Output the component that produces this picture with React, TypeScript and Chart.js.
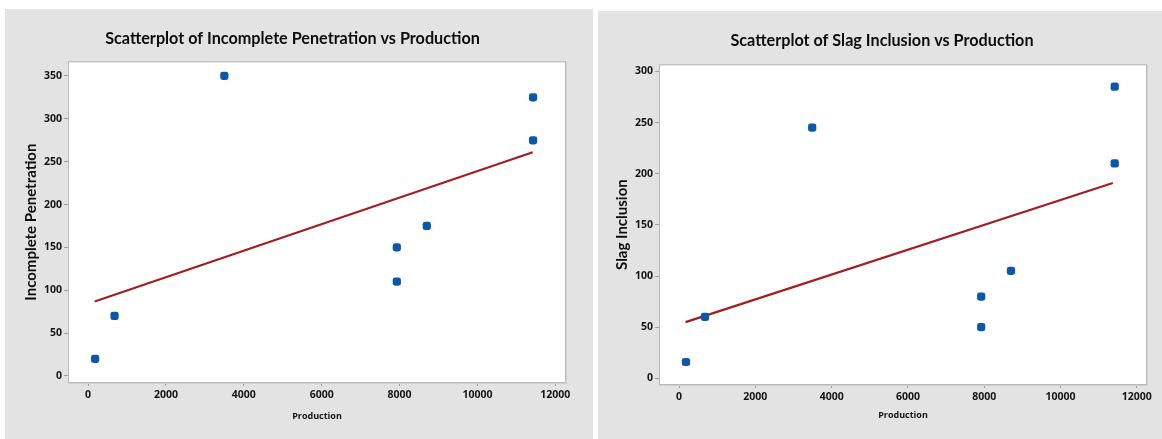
import React, { useEffect, useRef } from "react";
import { Chart, registerables } from "chart.js";

Chart.register(...registerables);

// ---- data ----
const xTicks = [0, 2000, 4000, 6000, 8000, 10000, 12000];
const penYTicks = [0, 50, 100, 150, 200, 250, 300, 350];
const slagYTicks = [0, 50, 100, 150, 200, 250, 300];

const penProduction = [180, 680, 3500, 7930, 7930, 8700, 11430, 11430];
const penetration = [20, 70, 350, 150, 110, 175, 325, 275];
const penFitX = [170, 11420];
const penFitY = [87, 261];

const slagProduction = [180, 680, 3490, 7920, 7920, 8700, 11420, 11420];
const slagInclusion = [16, 60, 245, 80, 50, 105, 285, 210];
const slagFitX = [170, 11370];
const slagFitY = [55, 191];

const TEXT = "#151515";
const TICK_FONT = "'Open Sans', Roboto, sans-serif";

const framePlugin = {
  id: "frame",
  beforeDraw(chart: any) {
    const { ctx, chartArea: a } = chart;
    ctx.save();
    ctx.fillStyle = "#ffffff";
    ctx.fillRect(a.left, a.top, a.right - a.left, a.bottom - a.top);
    ctx.restore();
  },
  beforeDatasetsDraw(chart: any) {
    const { ctx, chartArea: a } = chart;
    ctx.save();
    ctx.strokeStyle = "#b9b9b9";
    ctx.lineWidth = 1;
    ctx.strokeRect(a.left - 0.5, a.top - 0.5, a.right - a.left + 1, a.bottom - a.top + 1);
    ctx.strokeStyle = "#d2d2d2";
    ctx.beginPath();
    ctx.moveTo(a.right + 1.5, a.top);
    ctx.lineTo(a.right + 1.5, a.bottom + 2);
    ctx.moveTo(a.left, a.bottom + 1.5);
    ctx.lineTo(a.right + 2, a.bottom + 1.5);
    ctx.stroke();
    ctx.restore();
  },
};

type PanelProps = {
  title: string;
  yTitle: string;
  xs: number[];
  ys: number[];
  fitX: number[];
  fitY: number[];
  yTicks: number[];
  xMin: number;
  xMax: number;
  yMin: number;
  yMax: number;
  left: number;
  top: number;
  width: number;
  height: number;
  padLeft: number;
  yAxisWidth: number;
  areaBottom: number;
  padRight: number;
  yTitlePad: number;
  titlePadTop: number;
  titlePadBottom: number;
  xTitlePadBottom: number;
};

function ScatterPanel(p: PanelProps) {
  const ref = useRef<HTMLCanvasElement | null>(null);
  useEffect(() => {
    if (!ref.current) return;
    const chart = new Chart(ref.current, {
      type: "scatter",
      data: {
        datasets: [
          {
            data: p.xs.map((x, i) => ({ x, y: p.ys[i] })),
            pointStyle: "rectRounded",
            pointRadius: 4.8,
            backgroundColor: "#0b57aa",
            borderColor: "#0b57aa",
            borderWidth: 0,
            order: 1,
          },
          {
            type: "line",
            data: p.fitX.map((x, i) => ({ x, y: p.fitY[i] })),
            showLine: true,
            pointRadius: 0,
            borderColor: "#a21f1f",
            borderWidth: 2.2,
            fill: false,
            order: 2,
          } as any,
        ],
      },
      options: {
        animation: false,
        responsive: false,
        maintainAspectRatio: false,
        events: [],
        layout: { padding: { left: p.padLeft, right: p.padRight, top: 0, bottom: 0 } },
        plugins: {
          legend: { display: false },
          tooltip: { enabled: false },
          title: {
            display: true,
            text: p.title,
            color: "#0d0d0d",
            font: { family: "Lato", weight: "bold", size: 16.2, lineHeight: 1.25 },
            padding: { top: p.titlePadTop, bottom: p.titlePadBottom },
          },
        },
        scales: {
          x: {
            type: "linear",
            min: p.xMin,
            max: p.xMax,
            afterFit: (s: any) => {
              s.height = p.height - p.areaBottom;
            },
            afterBuildTicks: (s: any) => {
              s.ticks = xTicks.map((v) => ({ value: v }));
            },
            grid: {
              display: true,
              drawOnChartArea: false,
              drawTicks: true,
              tickLength: 4,
              color: "#9d9d9d",
              lineWidth: 1,
            },
            border: { display: false },
            ticks: {
              padding: 3,
              color: TEXT,
              autoSkip: false,
              maxRotation: 0,
              font: { family: TICK_FONT, weight: "bold", size: 10.5 },
              callback: (v: any) => String(v),
            },
            title: {
              display: true,
              text: "Production",
              color: TEXT,
              font: { family: TICK_FONT, weight: "bold", size: 9 },
              padding: { top: 0, bottom: p.xTitlePadBottom },
            },
          },
          y: {
            type: "linear",
            min: p.yMin,
            max: p.yMax,
            afterFit: (s: any) => {
              s.width = p.yAxisWidth;
            },
            afterBuildTicks: (s: any) => {
              s.ticks = p.yTicks.map((v) => ({ value: v }));
            },
            grid: {
              display: true,
              drawOnChartArea: false,
              drawTicks: true,
              tickLength: 5,
              color: "#9d9d9d",
              lineWidth: 1,
            },
            border: { display: false },
            ticks: {
              padding: 2,
              color: TEXT,
              autoSkip: false,
              font: { family: TICK_FONT, weight: "bold", size: 10.5 },
              callback: (v: any) => String(v),
            },
            title: {
              display: true,
              text: p.yTitle,
              color: "#0d0d0d",
              font: { family: "Lato", weight: "bold", size: 15, lineHeight: 1.2 },
              padding: { top: p.yTitlePad, bottom: 0 },
            },
          },
        },
      } as any,
      plugins: [framePlugin],
    });
    return () => chart.destroy();
  }, []);
  return (
    <canvas
      ref={ref}
      width={p.width}
      height={p.height}
      style={{
        position: "absolute",
        left: p.left,
        top: p.top,
        width: p.width,
        height: p.height,
      }}
    />
  );
}

export default function App() {
  return (
    <div style={{ position: "absolute", left: 0, top: 0, width: 1162, height: 439, background: "#ffffff", overflow: "hidden" }}>
      <div style={{ position: "absolute", left: 5, top: 9, width: 588, height: 430, background: "#e3e3e3" }} />
      <div style={{ position: "absolute", left: 598, top: 11, width: 564, height: 428, background: "#e3e3e3" }} />
      <ScatterPanel
        title="Scatterplot of Incomplete Penetration vs Production"
        yTitle="Incomplete Penetration"
        xs={penProduction}
        ys={penetration}
        fitX={penFitX}
        fitY={penFitY}
        yTicks={penYTicks}
        xMin={-490}
        xMax={12250}
        yMin={-7}
        yMax={366}
        left={5}
        top={9}
        width={575}
        height={430}
        padLeft={15}
        yAxisWidth={49}
        areaBottom={373}
        padRight={15}
        yTitlePad={2}
        titlePadTop={20}
        titlePadBottom={13}
        xTitlePadBottom={17}
      />
      <ScatterPanel
        title="Scatterplot of Slag Inclusion vs Production"
        yTitle="Slag Inclusion"
        xs={slagProduction}
        ys={slagInclusion}
        fitX={slagFitX}
        fitY={slagFitY}
        yTicks={slagYTicks}
        xMin={-500}
        xMax={12240}
        yMin={-5.5}
        yMax={306}
        left={598}
        top={11}
        width={564}
        height={428}
        padLeft={20}
        yAxisWidth={42}
        areaBottom={373}
        padRight={16}
        yTitlePad={-4.5}
        titlePadTop={20}
        titlePadBottom={14}
        xTitlePadBottom={18}
      />
    </div>
  );
}
